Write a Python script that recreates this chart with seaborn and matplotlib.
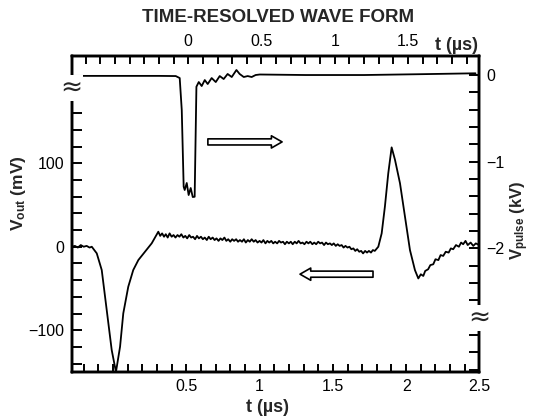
import numpy as np
import pandas as pd
import matplotlib
matplotlib.use("Agg")
import matplotlib.pyplot as plt
import matplotlib.ticker as mticker
import seaborn as sns

# ── Data ─────────────────────────────────────────────────────────────────────
# output signal, bottom time axis (µs) vs V_out (mV)
t_out = [-0.282, -0.26, -0.24, -0.22, -0.20, -0.18, -0.16, -0.145, -0.111,
         -0.077, -0.043, -0.009, 0.020, 0.048, 0.070, 0.104, 0.138, 0.173,
         0.218, 0.264, 0.309, 0.322, 0.335, 0.348, 0.36, 0.373, 0.386, 0.40,
         0.413, 0.426, 0.44, 0.453, 0.466, 0.48, 0.493, 0.506, 0.52, 0.533,
         0.546, 0.56, 0.573, 0.586, 0.60, 0.613, 0.626, 0.64, 0.653, 0.666,
         0.68, 0.693, 0.706, 0.72, 0.733, 0.746, 0.76, 0.773, 0.786, 0.80,
         0.813, 0.826, 0.84, 0.853, 0.866, 0.88, 0.893, 0.906, 0.92, 0.933,
         0.946, 0.96, 0.973, 0.986, 1.0, 1.013, 1.026, 1.04, 1.053, 1.066,
         1.08, 1.093, 1.106, 1.12, 1.133, 1.146, 1.16, 1.173, 1.186, 1.20,
         1.213, 1.226, 1.24, 1.253, 1.266, 1.28, 1.293, 1.306, 1.32, 1.333,
         1.346, 1.36, 1.373, 1.386, 1.40, 1.413, 1.426, 1.44, 1.453, 1.466,
         1.48, 1.493, 1.506, 1.52, 1.533, 1.546, 1.56, 1.573, 1.586, 1.60,
         1.613, 1.626, 1.64, 1.653, 1.666, 1.68, 1.693, 1.706, 1.72, 1.733,
         1.746, 1.76, 1.773, 1.786, 1.80, 1.810, 1.833, 1.855, 1.878, 1.901,
         1.924, 1.958, 1.992, 2.026, 2.060, 2.083, 2.10, 2.117, 2.13, 2.15,
         2.165, 2.185, 2.20, 2.22, 2.235, 2.253, 2.27, 2.29, 2.305, 2.321,
         2.34, 2.36, 2.375, 2.389, 2.405, 2.42, 2.44, 2.458, 2.475, 2.499]
v_out = [0, 1, -1, 2, 0, 1, -1, 0, -7.9,
         -27.9, -75.8, -123.7, -150, -119.8, -79.8, -47.9, -27.9, -15.9,
         -6.0, 4.1, 18, 13, 16, 12, 15, 11, 16, 12,
         14, 11, 14, 12, 15, 11, 13, 10, 14, 11,
         12, 9, 13, 10, 12, 9, 11, 8, 12, 9,
         11, 8, 10, 7, 10, 8, 11, 7, 9, 6,
         9, 7, 9, 6, 8, 6, 9, 5, 8, 6,
         9, 6, 8, 5, 7, 5, 8, 4, 7, 5,
         7, 4, 6, 4, 7, 5, 6, 3, 6, 4,
         6, 3, 6, 4, 7, 4, 5, 3, 6, 4,
         6, 3, 5, 3, 6, 4, 5, 2, 5, 3,
         4, 2, 4, 1, 3, 1, 2, -1, 1, -1,
         0, -3, -2, -5, -3, -6, -5, -8, -5, -7,
         -5, -7, -4, -5, -2, 0, 16, 48, 88, 119,
         104, 76, 36, -4, -28, -38, -33, -35, -29, -27,
         -22, -21, -15, -16, -10, -11, -6, -7, -2, -3,
         2, 0, 5, 3, 7, 2, 5, 1, 4, 2]

# pulse, top time axis (µs) vs V_pulse (kV)
t_pulse = [-0.795, -0.5, -0.2, -0.085, -0.058, -0.044, -0.031, -0.024, -0.010,
           0.003, 0.017, 0.031, 0.044, 0.056, 0.072, 0.092, 0.113, 0.133,
           0.160, 0.188, 0.215, 0.242, 0.269, 0.297, 0.329, 0.351, 0.379,
           0.406, 0.433, 0.460, 0.488, 0.8, 1.2, 1.6, 1.96]
v_pulse = [-0.01, -0.01, -0.01, -0.012, -0.035, -0.404, -1.289, -1.327, -1.246,
           -1.385, -1.304, -1.408, -1.405, -0.135, -0.081, -0.127, -0.058, -0.104,
           -0.035, -0.081, -0.012, -0.046, 0.012, -0.023, 0.058, 0.012, -0.023,
           -0.012, -0.023, 0.0, 0.006, 0.0, 0.0, 0.01, 0.02]

bottom_ticks = [0.5, 1, 1.5, 2, 2.5]
top_ticks = [0, 0.5, 1, 1.5]
left_ticks = [-100, 0, 100]
right_ticks = [0, -1, -2]

# ── Style ────────────────────────────────────────────────────────────────────
sns.set_theme(style="ticks")
plt.rcParams["font.family"] = "Liberation Sans"
plt.rcParams["mathtext.fontset"] = "custom"
plt.rcParams["mathtext.bf"] = "Liberation Sans:bold"
plt.rcParams["mathtext.rm"] = "Liberation Sans"

fig = plt.figure(figsize=(5.33, 4.17), dpi=100)
ax = fig.add_axes([0.1345, 0.1086, 0.765, 0.757])
ax_r = ax.twinx()
ax_t = ax_r.twiny()

out_df = pd.DataFrame({"t": t_out, "v": v_out})
pulse_df = pd.DataFrame({"t": t_pulse, "v": v_pulse})
sns.lineplot(data=out_df, x="t", y="v", ax=ax, color="black", lw=1.3,
             estimator=None, sort=False)
sns.lineplot(data=pulse_df, x="t", y="v", ax=ax_t, color="black", lw=1.3,
             estimator=None, sort=False)

ax.set_xlim(-0.282, 2.5)
ax.set_ylim(-149.7, 228.4)
ax_r.set_ylim(-3.424, 0.219)
ax_t.set_xlim(-0.795, 1.987)

fmt = mticker.FuncFormatter(lambda v, _: f"{v:g}".replace("-", "\u2212"))

ax.xaxis.set_major_locator(mticker.FixedLocator(bottom_ticks))
ax.xaxis.set_minor_locator(mticker.MultipleLocator(0.1))
ax.xaxis.set_major_formatter(fmt)
ax.yaxis.set_major_locator(mticker.FixedLocator(left_ticks))
ax.yaxis.set_minor_locator(mticker.FixedLocator(np.arange(-140, 161, 20)))
ax.yaxis.set_major_formatter(fmt)
ax_r.yaxis.set_major_locator(mticker.FixedLocator(right_ticks))
ax_r.yaxis.set_minor_locator(mticker.FixedLocator(np.arange(-3.4, 0.01, 0.2)))
ax_r.yaxis.set_major_formatter(fmt)
ax_t.xaxis.set_major_locator(mticker.FixedLocator(top_ticks))
ax_t.xaxis.set_minor_locator(mticker.MultipleLocator(0.1))
ax_t.xaxis.set_major_formatter(fmt)

for a in (ax, ax_r, ax_t):
    for s in a.spines.values():
        s.set_linewidth(1.7)
        s.set_color("black")
tick_kw = dict(which="both", direction="in", width=1.4, labelsize=11.5,
               colors="black", pad=5)
ax.tick_params(axis="x", length=6, top=False, **tick_kw)
ax.tick_params(axis="y", length=7, right=False, **tick_kw)
ax_r.tick_params(axis="y", length=7, **tick_kw)
ax_t.tick_params(axis="x", length=6, **tick_kw)

# ── Labels ───────────────────────────────────────────────────────────────────
ax_t.set_xlabel("")
ax_t.set_ylabel("")
ax.set_xlabel("t (µs)", fontweight="bold", fontsize=13)
ax.xaxis.set_label_coords(0.48, -0.085)
ax.set_ylabel(r"$\mathbf{V_{out}}$ (mV)", fontweight="bold", fontsize=12.5)
ax.yaxis.set_label_coords(-0.107, 0.566)
ax_r.set_ylabel(r"$\mathbf{V_{pulse}}$ (kV)", fontweight="bold", fontsize=12)
ax_r.yaxis.set_label_coords(1.07, 0.481)

fig.text(0.522, 0.959, "TIME-RESOLVED WAVE FORM", ha="center", va="center",
         fontweight="bold", fontsize=13.5)
fig.text(0.856, 0.892, "t (µs)", ha="center", va="center",
         fontweight="bold", fontsize=13)

# axis breaks
for bx, by in [(0.0, 0.90), (1.0, 0.17)]:
    ax_t.text(bx, by, "\u2248", transform=ax_t.transAxes, ha="center",
              va="center", fontsize=19, family="DejaVu Sans",
              bbox=dict(fc="white", ec="none", pad=0), clip_on=False)

# direction arrows
arrow = dict(arrowstyle="simple,head_length=0.7,head_width=0.8,tail_width=0.4",
             fc="white", ec="black", lw=1.2, mutation_scale=11,
             shrinkA=0, shrinkB=0)
ax_t.annotate("", xy=(0.516, 0.728), xytext=(0.334, 0.728),
              xycoords="axes fraction", arrowprops=arrow)
ax_t.annotate("", xy=(0.560, 0.309), xytext=(0.739, 0.309),
              xycoords="axes fraction", arrowprops=arrow)

fig.savefig("out.png", dpi=100)
